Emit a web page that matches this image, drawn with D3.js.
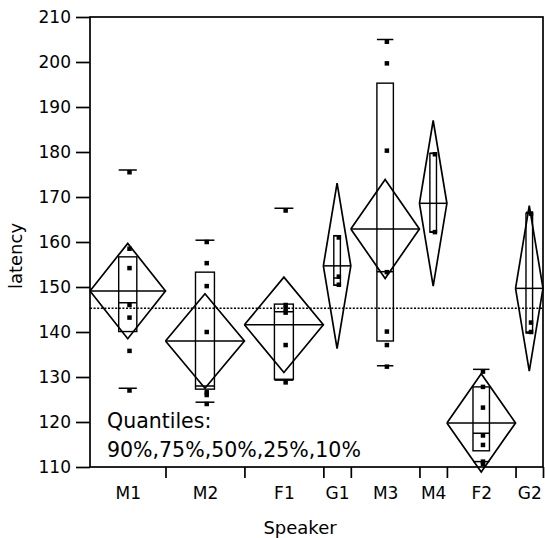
<!DOCTYPE html>
<html>
<head>
<meta charset="utf-8">
<script src="https://cdn.jsdelivr.net/npm/d3@7"></script>
<style>
  body { margin: 0; background: #fff; }
  text { font-family: "DejaVu Sans", sans-serif; fill: #000; }
</style>
</head>
<body>
<svg id="chart" width="545" height="538"></svg>
<script>
(function(){

    // groups along the x axis, widths follow group size
    var speakers  = ["M1", "M2", "F1", "G1", "M3", "M4", "F2", "G2"];
    var groupSize = [22, 23, 23, 8, 20, 8, 20, 8];

    // means diamonds: mean and 95% half interval
    var means  = [149.1, 138.0, 141.6, 154.7, 162.9, 168.6, 119.8, 149.7];
    var ciHalf = [10.6, 10.5, 10.6, 18.4, 11.0, 18.4, 10.9, 18.4];

    // quantile boxes
    var q10 = [127.5, 124.4, 129.3, 150.4, 132.5, 162.2, 111.2, 140.0];
    var q25 = [140.1, 127.3, 129.5, 150.4, 138.0, 162.2, 113.6, 139.8];
    var q50 = [146.5, 128.0, 144.5, 152.0, 153.4, 162.2, 117.5, 139.8];
    var q75 = [156.7, 153.3, 146.2, 161.4, 195.3, 179.7, 127.8, 166.4];
    var q90 = [176.0, 160.4, 167.5, 161.4, 205.0, 179.7, 131.7, 166.6];

    // observed latencies
    var latencies = [
        [175.5, 158.5, 154.2, 146.0, 143.2, 135.8, 127.0],
        [160.0, 155.3, 150.2, 140.0, 126.6, 126.0, 124.0],
        [167.0, 146.0, 145.2, 144.3, 137.1, 128.8],
        [161.0, 152.3, 150.5],
        [204.5, 199.7, 180.3, 153.3, 140.1, 137.1, 132.3],
        [179.5, 162.2],
        [131.2, 127.8, 123.2, 117.0, 114.9, 111.2, 110.7],
        [166.3, 142.1, 140.0]
    ];

    var grandMean = 145.3;
    var yTicks = [110, 120, 130, 140, 150, 160, 170, 180, 190, 200, 210];

    var left = 90, right = 543, top = 17, bottom = 467;

    var svg = d3.select("svg#chart");

    var total = d3.sum(groupSize);
    var starts = [];
    var acc = 0;
    groupSize.forEach(function(n){ starts.push(acc); acc += n; });

    let xScale = d3.scaleLinear()
                    .domain([0, total])
                    .range([left, right]);

    let yScale = d3.scaleLinear()
                    .domain([110, 210])
                    .range([bottom, top]);

    var groups = speakers.map(function(s, i){
        var x0 = xScale(starts[i]), x1 = xScale(starts[i] + groupSize[i]);
        return {name: s, i: i, x0: x0, x1: x1, xc: (x0 + x1) / 2, bw: (x1 - x0) * 0.24};
    });

    // frame
    svg.append("rect")
        .attr("x", left).attr("y", top)
        .attr("width", right - left).attr("height", bottom - top)
        .style("fill", "none")
        .style("stroke", "#000")
        .style("stroke-width", 1.7);

    // y axis
    var yAxis = svg.append("g")
        .attr("transform", "translate(" + left + ",0)")
        .call(d3.axisLeft(yScale).tickValues(yTicks).tickSize(14).tickPadding(5).tickFormat(d3.format("d")));
    yAxis.select(".domain").remove();
    yAxis.selectAll("line").style("stroke", "#000").style("stroke-width", 1.7);
    yAxis.selectAll("text")
        .style("font-family", "DejaVu Sans, sans-serif")
        .style("font-size", "17px")
        .style("fill", "#000");

    // x axis: separators between groups
    var bounds = starts.slice(1).concat([total]);
    var xTickAxis = svg.append("g")
        .attr("transform", "translate(0," + bottom + ")")
        .call(d3.axisBottom(xScale).tickValues(bounds).tickSize(11).tickFormat(""));
    xTickAxis.select(".domain").remove();
    xTickAxis.selectAll("line").style("stroke", "#000").style("stroke-width", 1.7);

    // x axis: speaker labels at group centres
    var centres = groups.map(function(g){ return xScale.invert(g.xc); });
    var xLabelAxis = svg.append("g")
        .attr("transform", "translate(0," + bottom + ")")
        .call(d3.axisBottom(xScale).tickValues(centres).tickSize(0).tickPadding(20)
            .tickFormat(function(d, i){ return speakers[i]; }));
    xLabelAxis.select(".domain").remove();
    xLabelAxis.selectAll("text")
        .style("font-family", "DejaVu Sans, sans-serif")
        .style("font-size", "17px")
        .style("fill", "#000");

    // grand mean
    svg.append("line")
        .attr("x1", left).attr("x2", right)
        .attr("y1", yScale(grandMean)).attr("y2", yScale(grandMean))
        .style("stroke", "#000")
        .style("stroke-width", 1.5)
        .style("stroke-dasharray", "2,1.6");

    var g = svg.append("g").style("fill", "none").style("stroke", "#000");

    // quantile boxes
    groups.forEach(function(d){
        var i = d.i, bx0 = d.xc - d.bw / 2, bx1 = d.xc + d.bw / 2;
        g.append("rect")
            .attr("x", bx0).attr("y", yScale(q75[i]))
            .attr("width", d.bw).attr("height", yScale(q25[i]) - yScale(q75[i]))
            .style("stroke-width", 1.4);
        [q50[i], q10[i], q90[i]].forEach(function(q){
            g.append("line")
                .attr("x1", bx0).attr("x2", bx1)
                .attr("y1", yScale(q)).attr("y2", yScale(q))
                .style("stroke-width", 1.5);
        });
    });

    // means diamonds
    var diamond = d3.line().x(function(p){ return p[0]; }).y(function(p){ return p[1]; });
    groups.forEach(function(d){
        var i = d.i;
        var m = yScale(means[i]), hi = yScale(means[i] + ciHalf[i]), lo = yScale(means[i] - ciHalf[i]);
        g.append("path")
            .attr("d", diamond([[d.x0, m], [d.xc, hi], [d.x1, m], [d.xc, lo], [d.x0, m]]))
            .style("stroke-width", 1.7)
            .style("stroke-linejoin", "miter");
        g.append("line")
            .attr("x1", d.x0).attr("x2", d.x1)
            .attr("y1", m).attr("y2", m)
            .style("stroke-width", 1.5);
    });

    // data points
    svg.append("g")
        .selectAll("g")
        .data(groups)
        .enter()
        .append("g")
        .each(function(d){
            d3.select(this).selectAll("rect")
                .data(latencies[d.i])
                .enter()
                .append("rect")
                .attr("x", d.xc - 0.5)
                .attr("y", function(v){ return yScale(v) - 2.25; })
                .attr("width", 4.5)
                .attr("height", 4.5)
                .style("fill", "#000");
        });

    // axis titles
    svg.append("text")
        .attr("x", 300)
        .attr("y", 534)
        .attr("text-anchor", "middle")
        .style("font-size", "18px")
        .text("Speaker");

    svg.append("text")
        .attr("transform", "translate(22,256) rotate(-90)")
        .attr("text-anchor", "middle")
        .style("font-size", "18px")
        .text("latency");

    // legend note
    svg.append("text")
        .attr("x", 107).attr("y", 428)
        .style("font-size", "20.5px")
        .text("Quantiles:");
    svg.append("text")
        .attr("x", 107).attr("y", 457)
        .style("font-size", "20.5px")
        .text("90%,75%,50%,25%,10%");

})();
</script>
</body>
</html>
